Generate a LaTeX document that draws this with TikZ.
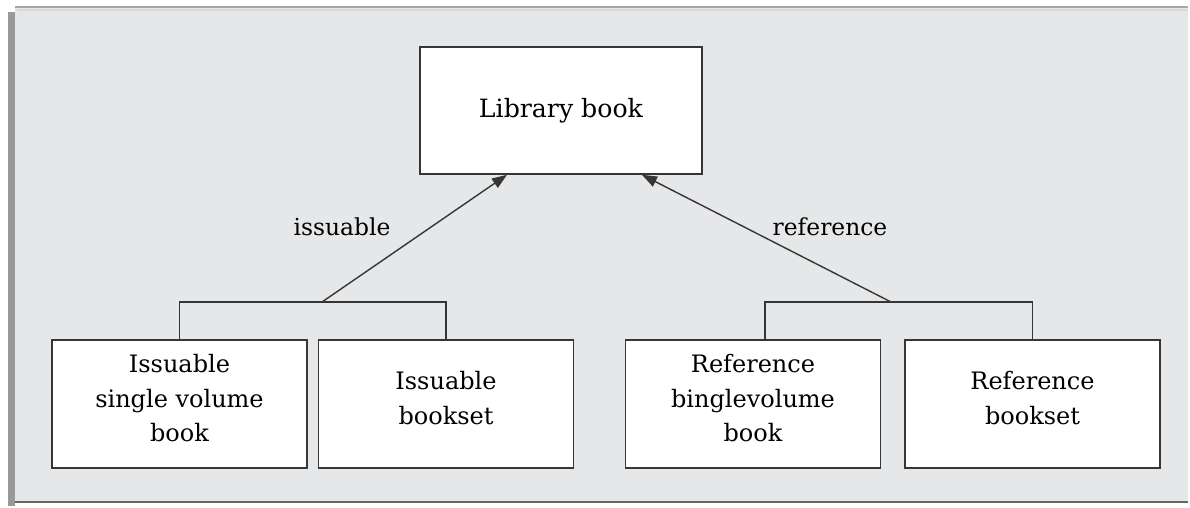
\documentclass[tikz,border=0pt]{standalone}
\usepackage{fontspec}
\setmainfont{DejaVu Serif}
\usetikzlibrary{arrows.meta,calc}
\definecolor{panelgray}{HTML}{E6E7E9}
\definecolor{inkgray}{HTML}{363636}
\tikzset{
  bookbox/.style={draw=inkgray, line width=0.8pt, fill=white, align=center,
    minimum width=127.5pt, minimum height=64pt, inner sep=0pt, text depth=6pt,
    font=\fontsize{12}{17.3}\selectfont},
  tag/.style={font=\fontsize{11.7}{14}\selectfont, inner sep=0pt},
  link/.style={draw=inkgray, line width=0.7pt},
  isa/.style={link, -{Triangle[length=7.5pt,width=5.5pt]}}
}
\begin{document}
\begin{tikzpicture}[x=0.5pt,y=-0.5pt]
  \useasboundingbox (0,0) rectangle (1190,508);
  \fill[white] (0,0) rectangle (1190,508);
  % framed grey panel with its edge shading
  \fill[black!40] (8,12) rectangle (15,506);
  \fill[panelgray] (15,7) rectangle (1188,503);
  \draw[black!35, line width=1pt] (15,7) -- (1188,7);
  \draw[white!85!black, line width=0.8pt] (17,10) -- (1188,10);
  \draw[black!60, line width=1.4pt] (15,502) -- (1188,502);

  % classes
  \node[bookbox, minimum width=141pt, minimum height=63.5pt, text depth=,
        font=\fontsize{12.6}{17.3}\selectfont] (lib) at (561,110.5) {Library book};
  \node[bookbox] (is1) at (179.5,404) {Issuable\\single volume\\book};
  \node[bookbox] (is2) at (446,404) {Issuable\\bookset};
  \node[bookbox] (rf1) at (753,404) {Reference\\binglevolume\\book};
  \node[bookbox] (rf2) at (1032.5,404) {Reference\\bookset};

  % junction points of the two brackets
  \coordinate (jl) at (322,302);
  \coordinate (jr) at (891,302);

  % issuable branch
  \draw[link] (is1.north) -- (is1.north |- jl) -- (is2.north |- jl) -- (is2.north);
  \draw[isa] (jl) -- (lib.south -| 507,0);
  \node[tag] (tis) at (342,227) {issuable};

  % reference branch
  \draw[link] ($(rf1.north)+(12,0)$) -- ($(rf1.north |- jr)+(12,0)$) -- (rf2.north |- jr) -- (rf2.north);
  \draw[isa] (jr) -- (lib.south -| 642,0);
  \node[tag] (trf) at (830,227) {reference};
\end{tikzpicture}
\end{document}
